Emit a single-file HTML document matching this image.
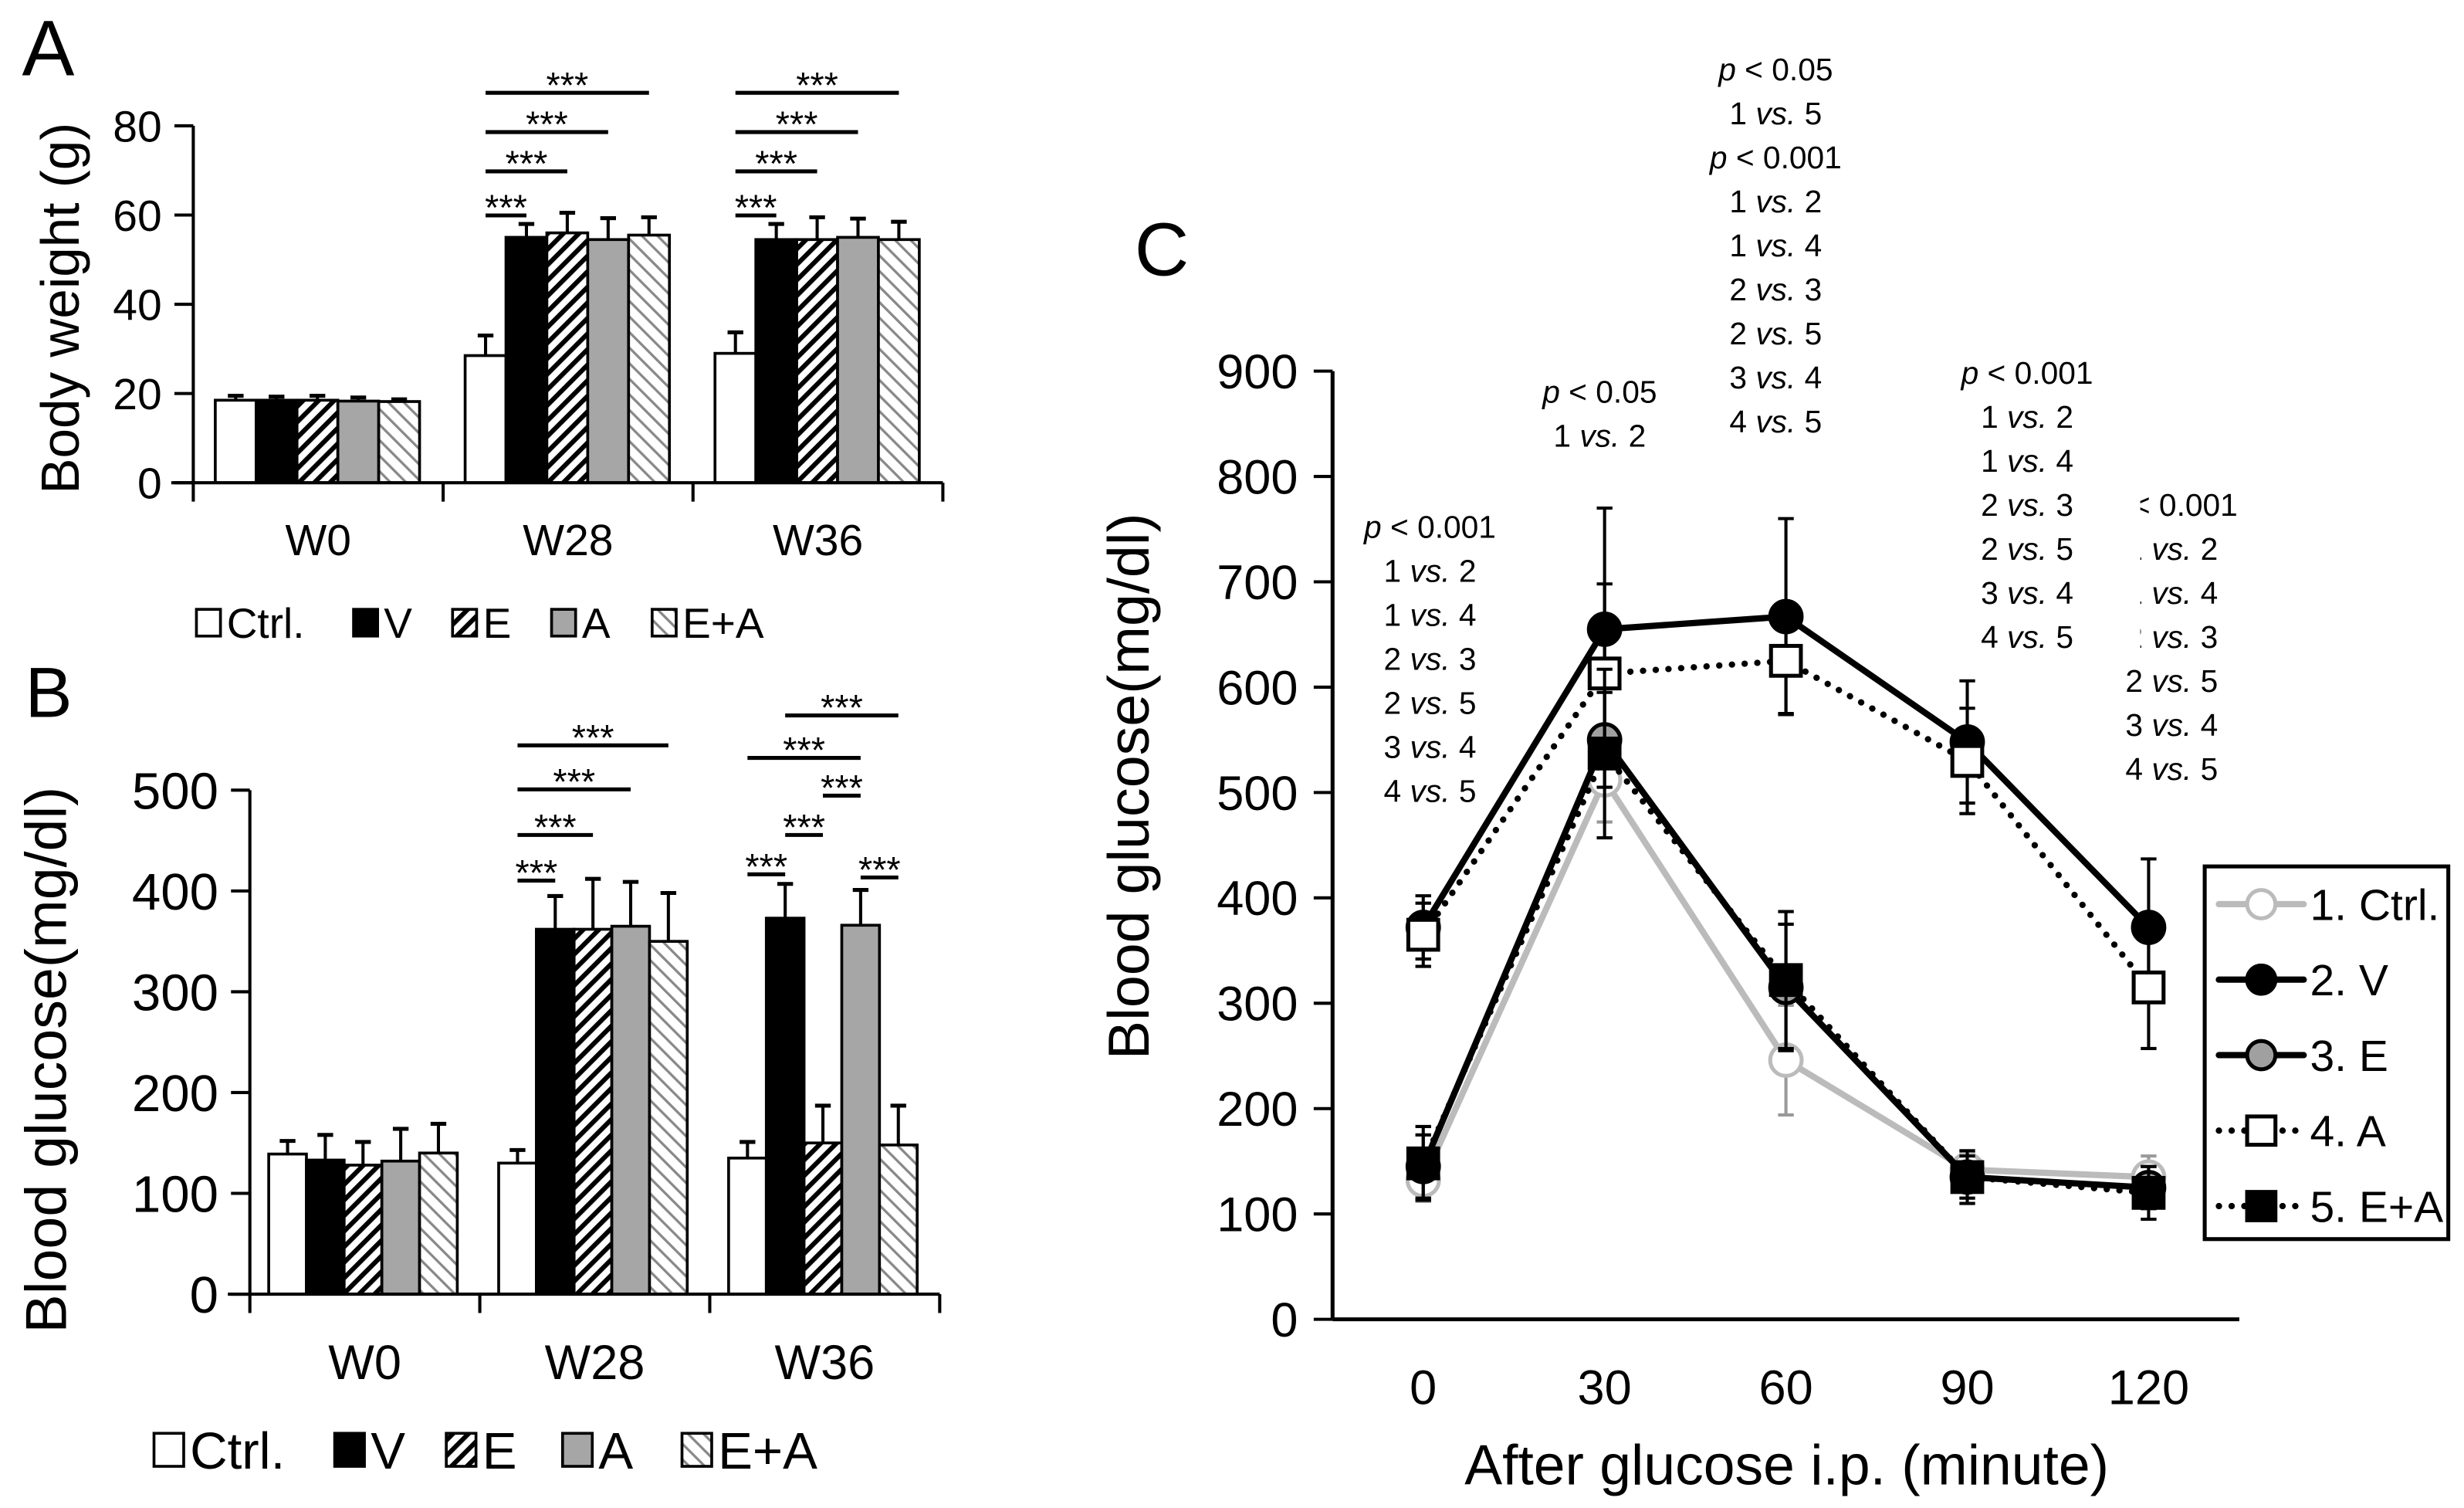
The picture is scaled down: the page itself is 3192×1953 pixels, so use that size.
<!DOCTYPE html>
<html><head><meta charset="utf-8"><style>
html,body{margin:0;padding:0;background:#fff;}
svg{display:block;font-family:"Liberation Sans",Arial,sans-serif;}
</style></head><body>
<svg id="fig" xmlns="http://www.w3.org/2000/svg" width="3192" height="1953" viewBox="0 0 1568 959" preserveAspectRatio="none">
<defs>
<pattern id="hatchE" patternUnits="userSpaceOnUse" width="7" height="7" patternTransform="rotate(45)">
<rect width="7" height="7" fill="#fff"/><rect x="0" y="0" width="3" height="7" fill="#000"/></pattern>
<pattern id="hatchEA" patternUnits="userSpaceOnUse" width="7" height="7" patternTransform="rotate(-45)">
<rect width="7" height="7" fill="#fff"/><rect x="0" y="0" width="1.6" height="7" fill="#888"/></pattern>
</defs>
<rect width="1568" height="959" fill="#fff"/>
<g id="root"></g>
</svg>
<script>
// ---------- data ----------
const groups = ['W0','W28','W36'];
const seriesNames = ['Ctrl.','V','E','A','E+A'];
const bwMean = [[18.5,18.5,18.5,18.3,18.2],[28.5,55,56,54.5,55.5],[29,54.5,54.5,55,54.5]];
const bwErr  = [[1,0.8,1,0.8,0.5],[4.5,3,4.5,4.8,4],[4.7,3.5,5,4.2,4]];
const bwTicks = [0,20,40,60,80];
const bgMean = [[139,133,128,132,140],[130,362,362,365,350],[135,373,150,366,148]];
const bgErr  = [[13,25,23,32,29],[13,33,50,44,48],[16,34,37,35,39]];
const bgTicks = [0,100,200,300,400,500];
const minutes = [0,30,60,90,120];
const ctrlG = [132,512,246,142,135];
const ctrlE = [20,40,52,15,20];
const vG = [372,655,667,548,372];
const vE = [30,115,93,58,65];
const eG = [145,550,315,135,125];
const eE = [30,45,60,20,20];
const aG = [365,613,625,530,315];
const aE = [30,85,50,50,58];
const eaG = [148,537,322,135,120];
const eaE = [35,80,65,25,25];
const glTicks = [0,100,200,300,400,500,600,700,800,900];

const NS='http://www.w3.org/2000/svg';
const root=document.getElementById('root');
function el(tag,attrs,parent){const e=document.createElementNS(NS,tag);for(const k in attrs)e.setAttribute(k,attrs[k]);(parent||root).appendChild(e);return e;}
function txt(s,attrs,parent){const t=el('text',attrs,parent);t.textContent=s;return t;}
const fills=['#fff','#000','url(#hatchE)','#a6a6a6','url(#hatchEA)'];

function barPanel(cfg){
  const g=el('g',{});
  
  
  const y=v=>cfg.y0-(v-cfg.vmin)/(cfg.vmax-cfg.vmin)*(cfg.y0-cfg.y1);
  const gw=(cfg.xEnd-cfg.x0)/groups.length;
  groups.forEach((gn,gi)=>{
    seriesNames.forEach((sn,si)=>{
      const bx=cfg.x0+gi*gw+cfg.off+si*cfg.bw;
      const v=cfg.mean[gi][si], e=cfg.err[gi][si];
      const cx=bx+cfg.bw/2;
      const eb=el('line',{x1:cx,x2:cx,y1:y(v),y2:y(v+e),stroke:'#000','stroke-width':2},g);
      
      
      const cap=el('line',{x1:cx-5,x2:cx+5,y1:y(v+e),y2:y(v+e),stroke:'#000','stroke-width':2.5},g);
      
      
      const r=el('rect',{x:bx,y:y(v),width:cfg.bw,height:y(0)-y(v),fill:fills[si],stroke:'#000','stroke-width':1.8},g);
      
      
    });
    const lab=txt(gn,{x:cfg.x0+gi*gw+gw/2,y:cfg.catY,'font-size':cfg.catFs,'text-anchor':'middle'},g);
    
    
  });
  const ya=el('line',{x1:cfg.x0,x2:cfg.x0,y1:y(cfg.vmax),y2:y(0),stroke:'#000','stroke-width':2},g);
  
  
  const xa=el('line',{x1:cfg.x0-14,x2:cfg.xEnd,y1:y(0),y2:y(0),stroke:'#000','stroke-width':2},g);
  
  
  for(let i=0;i<=groups.length;i++){
    const tx=cfg.x0+i*gw;
    el('line',{x1:tx,x2:tx,y1:y(0),y2:y(0)+12,stroke:'#000','stroke-width':2},g);
  }
  cfg.ticks.forEach(t=>{
    el('line',{x1:cfg.x0-12,x2:cfg.x0,y1:y(t),y2:y(t),stroke:'#000','stroke-width':2},g);
    const tl=txt(String(t),{x:cfg.x0-20,y:y(t)+cfg.tickFs*0.36,'font-size':cfg.tickFs,'text-anchor':'end'},g);
    
    
  });
  cfg.sig.forEach(s=>{
    const gx=cfg.x0+s[0]*gw+cfg.off;
    const xa1=gx+s[1]*cfg.bw+cfg.bw/2, xb=gx+s[2]*cfg.bw+cfg.bw/2;
    el('line',{x1:xa1,x2:xb,y1:s[3],y2:s[3],stroke:'#000','stroke-width':2.5},g);
    const st=txt('***',{x:(xa1+xb)/2,y:s[3]+3,'font-size':cfg.starFs,'text-anchor':'middle'},g);
    
    
  });
  const tt=txt(cfg.title,{x:0,y:0,'font-size':cfg.titleFs,'text-anchor':'middle',transform:`translate(${cfg.titleX},${cfg.titleY}) rotate(-90)`},g);
  
  
  cfg.leg.forEach((lx,i)=>{
    const r=el('rect',{x:lx,y:cfg.legY-cfg.legBox/2,width:cfg.legBox*0.9,height:cfg.legBox,fill:fills[i],stroke:'#000','stroke-width':1.8},g);
    
    
    const t=txt(seriesNames[i],{x:lx+cfg.legBox*0.9+4,y:cfg.legY+cfg.legFs*0.36,'font-size':cfg.legFs},g);
    
    
  });
  const L=txt(cfg.letter,{x:cfg.letterX,y:cfg.letterY,'font-size':cfg.letterFs},g);
  
  
}

barPanel({name:'panel-a-body-weight',x0:123,xEnd:600,y0:307,y1:80,vmin:0,vmax:80,bw:26,off:14,mean:bwMean,err:bwErr,ticks:bwTicks,
  tickFs:28,catFs:28,catY:353,starFs:23,title:'Body weight (g)',titleFs:34,titleX:50,titleY:196,
  sig:[[1,0,1,137],[1,0,2,109],[1,0,3,84],[1,0,4,59],[2,0,1,137],[2,0,2,109],[2,0,3,84],[2,0,4,59]],
  leg:[125,225,288,351,415],legY:396,legBox:17,legFs:27,letter:'A',letterX:14,letterY:48,letterFs:50});

barPanel({name:'panel-b-blood-glucose',x0:159,xEnd:598,y0:823,y1:502.5,vmin:0,vmax:500,bw:24,off:12,mean:bgMean,err:bgErr,ticks:bgTicks,
  tickFs:33,catFs:31,catY:877,starFs:23,title:'Blood glucose(mg/dl)',titleFs:37,titleX:42,titleY:674,
  sig:[[1,0,1,560],[1,0,2,531],[1,0,3,502],[1,0,4,474],[2,0,1,556],[2,1,2,531],[2,3,4,558],[2,2,3,506],[2,0,3,482],[2,1,4,455]],
  leg:[98,213,284,358,434],legY:922,legBox:21,legFs:33,letter:'B',letterX:16,letterY:456,letterFs:45});

// ---------- Panel C ----------
(function(){
  const g=el('g',{});
  
  
  const X0=848, XE=1425, Y0=839, Y1=236;
  const y=v=>Y0-v/900*(Y0-Y1);
  const step=(XE-X0)/minutes.length;
  const x=i=>X0+step*(i+0.5);
  glTicks.forEach(t=>{
    el('line',{x1:X0-12,x2:X0,y1:y(t),y2:y(t),stroke:'#000','stroke-width':2},g);
    const tl=txt(String(t),{x:X0-22,y:y(t)+11,'font-size':31,'text-anchor':'end'},g);
    
    
  });
  minutes.forEach((m,i)=>{
    const tl=txt(String(m),{x:x(i),y:893,'font-size':31,'text-anchor':'middle'},g);
    
    
  });
  const ya=el('line',{x1:X0,x2:X0,y1:Y1,y2:Y0,stroke:'#000','stroke-width':2.5},g);
  
  
  const xa=el('line',{x1:X0,x2:XE,y1:Y0,y2:Y0,stroke:'#000','stroke-width':2.5},g);
  
  

  const series=[
    {n:'1. Ctrl.',v:ctrlG,e:ctrlE,col:'#bbb',dash:null,mk:'circle',mf:'#fff',ms:'#bbb',sw:4},
    {n:'2. V',v:vG,e:vE,col:'#000',dash:null,mk:'circle',mf:'#000',ms:'#000',sw:4},
    {n:'3. E',v:eG,e:eE,col:'#000',dash:null,mk:'circle',mf:'#a0a0a0',ms:'#000',sw:4},
    {n:'4. A',v:aG,e:aE,col:'#000',dash:'0.1 8',mk:'square',mf:'#fff',ms:'#000',sw:4},
    {n:'5. E+A',v:eaG,e:eaE,col:'#000',dash:'0.1 8',mk:'square',mf:'#000',ms:'#000',sw:4}
  ];
  function marker(s,cx,cy,parent,r){
    let m;
    if(s.mk==='circle') m=el('circle',{cx:cx,cy:cy,r:r,fill:s.mf,stroke:s.ms,'stroke-width':2.5},parent);
    else m=el('rect',{x:cx-r,y:cy-r,width:2*r,height:2*r,fill:s.mf,stroke:s.ms,'stroke-width':2.5},parent);
    return m;
  }
  series.forEach((s,si)=>{
    const sg=el('g',{},g);
    
    
    s.v.forEach((v,i)=>{
      const cx=x(i);
      el('line',{x1:cx,x2:cx,y1:y(v-s.e[i]),y2:y(v+s.e[i]),stroke:si===0?'#999':'#000','stroke-width':2},sg);
      el('line',{x1:cx-5,x2:cx+5,y1:y(v+s.e[i]),y2:y(v+s.e[i]),stroke:si===0?'#999':'#000','stroke-width':2},sg);
      el('line',{x1:cx-5,x2:cx+5,y1:y(v-s.e[i]),y2:y(v-s.e[i]),stroke:si===0?'#999':'#000','stroke-width':2},sg);
    });
    const pts=s.v.map((v,i)=>x(i)+','+y(v)).join(' ');
    const pl=el('polyline',{points:pts,fill:'none',stroke:s.col,'stroke-width':s.sw,'stroke-linecap':'round'},sg);
    if(s.dash) pl.setAttribute('stroke-dasharray',s.dash);
    
    
    s.v.forEach((v,i)=>{
      const m=marker(s,x(i),y(v),sg,s.mk==='square'?9.5:10);
      
      
    });
  });
  const lg=el('g',{},g);
  
  
  el('rect',{x:1403,y:551,width:155,height:237,fill:'#fff',stroke:'#000','stroke-width':2.5},lg);
  series.forEach((s,i)=>{
    const ly=575+i*48;
    const ln=el('line',{x1:1412,x2:1466,y1:ly,y2:ly,stroke:s.col,'stroke-width':4,'stroke-linecap':'round'},lg);
    if(s.dash) ln.setAttribute('stroke-dasharray',s.dash);
    marker(s,1439,ly,lg,9);
    const t=txt(s.n,{x:1470,y:ly+10,'font-size':28},lg);
    
    
  });
  const yt=txt('Blood glucose(mg/dl)',{x:0,y:0,'font-size':37,'text-anchor':'middle',transform:'translate(731,500) rotate(-90)'},g);
  
  
  const xt=txt('After glucose i.p. (minute)',{x:1137,y:944,'font-size':36,'text-anchor':'middle'},g);
  
  
  const L=txt('C',{x:722,y:175,'font-size':48},g);
  
  

  function ann(cx,y0,lines){
    const ag=el('g',{},g);
    
    
    lines.forEach((l,i)=>{
      const t=el('text',{x:cx,y:y0+i*28,'font-size':20,'text-anchor':'middle'},ag);
      if(l[0]==='p'){
        const a=el('tspan',{'font-style':'italic'},t);a.textContent='p';
        const b=el('tspan',{},t);b.textContent=' < '+l[1];
      } else {
        const a=el('tspan',{},t);a.textContent=l[0]+' ';
        const b=el('tspan',{'font-style':'italic'},t);b.textContent='vs.';
        const c=el('tspan',{},t);c.textContent=' '+l[1];
      }
    });
  }
  const common=[['1','2'],['1','4'],['2','3'],['2','5'],['3','4'],['4','5']];
  ann(910,342,[['p','0.001']].concat(common));
  ann(1018,256,[['p','0.05'],['1','2']]);
  ann(1130,51,[['p','0.05'],['1','5'],['p','0.001']].concat(common));
  ann(1290,244,[['p','0.001']].concat(common));
  ann(1382,328,[['p','0.001']].concat(common));
  const cover=el('rect',{x:1336,y:306,width:26,height:118,fill:'#fff'},g);
  
  
})();
</script>
</body></html>
